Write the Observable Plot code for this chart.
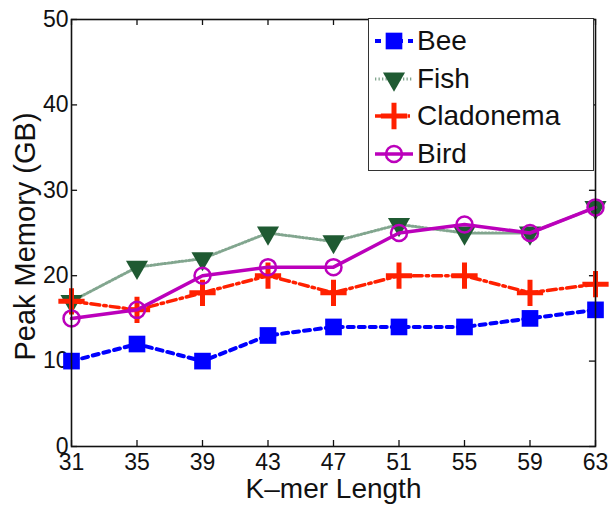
<!DOCTYPE html>
<html><head><meta charset="utf-8">
<script src="https://cdn.jsdelivr.net/npm/d3@7"></script>
<script src="https://cdn.jsdelivr.net/npm/@observablehq/plot@0.6"></script>
<style>
body{margin:0;background:#fff;}
#wrap{position:relative;width:609px;height:506px;font-family:"Liberation Sans",Arial,sans-serif;}
#legend{position:absolute;left:368px;top:18px;width:224px;height:151px;border:1.5px solid #333;background:#fff;}
.item{position:absolute;left:0;height:36px;display:flex;align-items:center;}
.item span{font-size:28px;color:#111;margin-left:2px;line-height:36px;}
.item svg{display:block;}
</style></head><body><div id="wrap"></div>
<script>
// ---- data ----
const kmers = [31, 35, 39, 43, 47, 51, 55, 59, 63];
const bee = [10, 12, 10, 13, 14, 14, 14, 15, 16];
const fish = [17, 21, 22, 25, 24, 26, 25, 25, 28];
const cladonema = [17, 16, 18, 20, 18, 20, 20, 18, 19];
const bird = [15, 16, 20, 21, 21, 25, 26, 25, 28];
const yTicks = [0, 10, 20, 30, 40, 50];
const seriesNames = ["Bee", "Fish", "Cladonema", "Bird"];
const xLabel = "K\u2013mer Length";
const yLabel = "Peak Memory (GB)";

// ---- styles ----
const styles = {
  Bee: {line: {stroke: "#0000ff", strokeWidth: 4, strokeDasharray: "6,5"},
        dot: {symbol: "square", r: 9.4, fill: "#0000ff", stroke: "none"}},
  Fish: {line: {stroke: "#2f6a45", strokeWidth: 3, strokeDasharray: "1.3,2.2", strokeOpacity: 0.6},
         dot: {symbol: "triangle", r: 8.2, fill: "#1f5a32", stroke: "none", rotate: 180}},
  Cladonema: {line: {stroke: "#ff2000", strokeWidth: 3.5, strokeDasharray: "9,4,2.5,4"},
              dot: {symbol: "plus", r: 8.5, fill: "none", stroke: "#ff2000", strokeWidth: 5}},
  Bird: {line: {stroke: "#bb00bb", strokeWidth: 3.5},
         dot: {symbol: "circle", r: 8, fill: "none", stroke: "#bb00bb", strokeWidth: 2.5}}
};
const valuesBy = {Bee: bee, Fish: fish, Cladonema: cladonema, Bird: bird};

const rows = [];
for (const name of seriesNames) valuesBy[name].forEach((v, i) => rows.push({series: name, k: kmers[i], v}));

const seriesMarks = seriesNames.flatMap(name => {
  const d = rows.filter(r => r.series === name);
  return [
    Plot.line(d, {x: "k", y: "v", ...styles[name].line}),
    Plot.dot(d, {x: "k", y: "v", ...styles[name].dot})
  ];
});

const chart = Plot.plot({
  width: 609, height: 506,
  marginLeft: 71, marginRight: 14, marginTop: 19, marginBottom: 60,
  style: {fontFamily: "'Liberation Sans', Arial, sans-serif", background: "#fff", color: "#111"},
  x: {domain: [31, 63]},
  y: {domain: [0, 50]},
  marks: [
    // inward ticks
    Plot.ruleX(kmers, {x: d => d, y1: 0, y2: 0.7, stroke: "#111", strokeWidth: 1.3}),
    Plot.ruleX(kmers, {x: d => d, y1: 50, y2: 49.3, stroke: "#111", strokeWidth: 1.3}),
    Plot.ruleY(yTicks, {y: d => d, x1: 31, x2: 31.37, stroke: "#111", strokeWidth: 1.3}),
    Plot.ruleY(yTicks, {y: d => d, x1: 63, x2: 62.63, stroke: "#111", strokeWidth: 1.3}),
    Plot.axisX({ticks: kmers, tickSize: 0, tickPadding: 7, fontSize: 23, label: null}),
    Plot.axisY({ticks: yTicks, tickSize: 0, tickPadding: 3, fontSize: 23, label: null}),
    ...seriesMarks,
    Plot.frame({stroke: "#111", strokeWidth: 1.6}),
    Plot.text([xLabel], {frameAnchor: "bottom", textAnchor: "middle", dy: 51, lineAnchor: "bottom", fontSize: 28, fill: "#111"}),
    Plot.text([yLabel], {frameAnchor: "left", textAnchor: "middle", rotate: -90, dx: -37, dy: 3.5, lineAnchor: "bottom", fontSize: 29, fill: "#111"})
  ]
});

const wrap = document.getElementById("wrap");
wrap.appendChild(chart);

// ---- legend ----
const legend = document.createElement("div");
legend.id = "legend";
const rowTops = [4, 42, 79, 117];
const symMap = {square: d3.symbolSquare, triangle: d3.symbolTriangle, plus: d3.symbolPlus, circle: d3.symbolCircle};
seriesNames.forEach((name, i) => {
  const item = document.createElement("div");
  item.className = "item";
  item.style.top = rowTops[i] + "px";
  const svg = d3.create("svg").attr("width", 46).attr("height", 36);
  const ls = styles[name].line;
  svg.append("line").attr("x1", 6).attr("x2", 44).attr("y1", 18).attr("y2", 18)
    .attr("stroke", ls.stroke).attr("stroke-width", ls.strokeWidth)
    .attr("stroke-dasharray", ls.strokeDasharray || null)
    .attr("stroke-opacity", ls.strokeOpacity || 1);
  const ds = styles[name].dot;
  svg.append("path")
    .attr("d", d3.symbol(symMap[ds.symbol], Math.PI * ds.r * ds.r)())
    .attr("transform", `translate(25,18) rotate(${ds.rotate || 0})`)
    .attr("fill", ds.fill).attr("stroke", ds.stroke)
    .attr("stroke-width", ds.strokeWidth || 1);
  item.appendChild(svg.node());
  const span = document.createElement("span");
  span.textContent = name;
  item.appendChild(span);
  legend.appendChild(item);
});
wrap.appendChild(legend);
</script>
</body></html>
